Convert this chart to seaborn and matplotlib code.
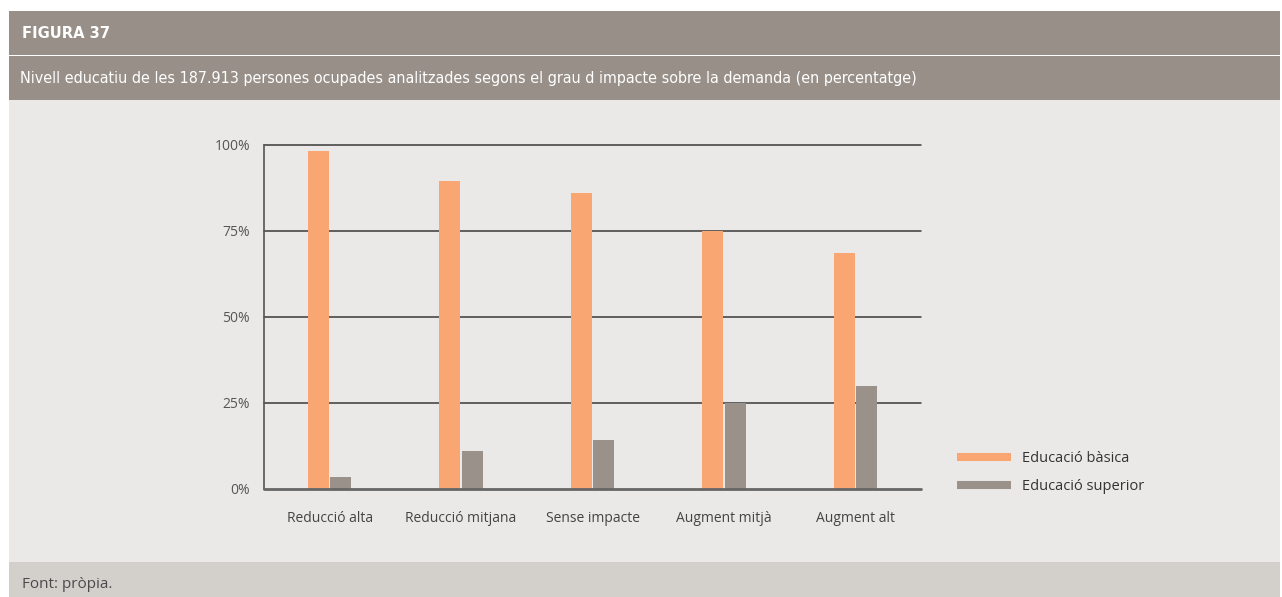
import pandas as pd
import seaborn as sns
import matplotlib.pyplot as plt
from matplotlib.patches import Rectangle
from matplotlib.lines import Line2D

categories = ['Reducció alta', 'Reducció mitjana', 'Sense impacte', 'Augment mitjà', 'Augment alt']
basica = [98.3, 89.5, 86.0, 75.0, 68.6]
superior = [3.5, 11.0, 14.2, 25.0, 30.0]
series = ['Educació bàsica', 'Educació superior']
yticks = [0, 25, 50, 75, 100]
ytick_labels = ['0%', '25%', '50%', '75%', '100%']

title = 'FIGURA 37'
subtitle = 'Nivell educatiu de les 187.913 persones ocupades analitzades segons el grau d impacte sobre la demanda (en percentatge)'
source = 'Font: pròpia.'

ORANGE = '#f9a672'
GREY = '#9a918a'
HEAD = '#978f88'
BG = '#ebe9e7'
FOOT = '#d3cfcb'

W, H = 1282, 597

def fx(x):
    return x / W

def fy(y):
    return 1 - y / H

sns.set_style('white')
plt.rcParams['font.family'] = ['Open Sans', 'DejaVu Sans']

fig = plt.figure(figsize=(W / 100, H / 100), dpi=100)
fig.patch.set_facecolor('white')

# background bands (behind the axes)
def band(x0, y0, x1, y1, color):
    fig.patches.append(Rectangle((fx(x0), fy(y1)), fx(x1) - fx(x0), fy(y0) - fy(y1),
                                 transform=fig.transFigure, facecolor=color, edgecolor='none', zorder=-5))

band(9, 11, 1280, 54.5, HEAD)
band(9, 56, 1280, 99.5, HEAD)
band(9, 100, 1280, 562, BG)
band(9, 562, 1280, 597, FOOT)

fig.text(fx(22), fy(33), title, color='white', fontsize=11.8, fontweight='bold',
         family='DejaVu Sans', fontstretch='condensed', va='center', ha='left')
fig.text(fx(20), fy(78), subtitle, color='white', fontsize=11.5,
         family='DejaVu Sans', fontstretch='condensed', va='center', ha='left')
fig.text(fx(22), fy(584), source, color='#4a4a4a', fontsize=11, va='center', ha='left')

# chart
df = pd.DataFrame({
    'cat': categories * 2,
    'val': basica + superior,
    'serie': [series[0]] * len(categories) + [series[1]] * len(categories),
})

ax = fig.add_axes([fx(264), fy(489), fx(921) - fx(264), fy(145) - fy(489)])
ax.set_facecolor('none')
sns.barplot(data=df, x='cat', y='val', hue='serie', order=categories, hue_order=series,
            palette=[ORANGE, GREY], width=0.342, gap=0.065, saturation=1, linewidth=0,
            legend=False, ax=ax)
ax.set_ylim(0, 100)
ax.set_xlim(-0.5, len(categories) - 0.5)
ax.set_yticks(yticks)
ax.set_yticklabels(ytick_labels)
ax.set(xlabel=None, ylabel=None)
ax.tick_params(axis='both', length=0, labelsize=10, labelcolor='#555555')
ax.tick_params(axis='y', pad=10)
ax.tick_params(axis='x', pad=16, labelcolor='#444444')
for s in ['top', 'right', 'bottom']:
    ax.spines[s].set_visible(False)
ax.spines['left'].set_color('#555555')
ax.spines['left'].set_linewidth(1.2)
for y in yticks[1:]:
    ax.axhline(y, color='#3a3a3a', lw=1.1, zorder=0.5, clip_on=False)
ax.axhline(0, color='#666666', lw=2, zorder=3, clip_on=False)

handles = [Line2D([], [], color=ORANGE, lw=5.8, solid_capstyle='butt'),
           Line2D([], [], color=GREY, lw=5.8, solid_capstyle='butt')]
fig.legend(handles, series, loc='center left', bbox_to_anchor=(fx(944), fy(472.5)),
           frameon=False, handlelength=3.7, handletextpad=0.75, labelspacing=0.93,
           fontsize=10.5, labelcolor='#333333')

plt.savefig('out.png', dpi=100, facecolor='white')
